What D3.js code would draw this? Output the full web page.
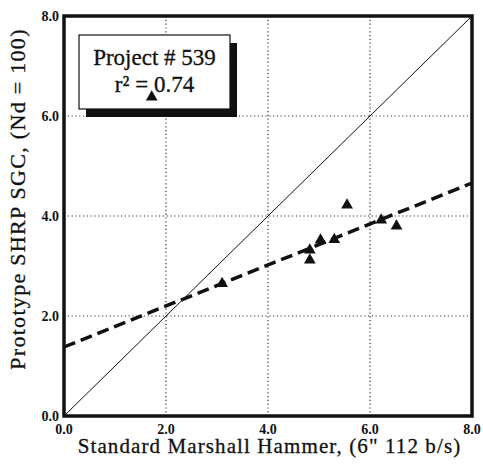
<!DOCTYPE html>
<html>
  <head>
    <script src="https://cdn.jsdelivr.net/npm/d3@7"></script>
    <style>
      body { margin: 0; background: #fff; overflow: hidden; }
      svg { display: block; }
      .tick-label { font-family: "Liberation Serif", serif; font-weight: bold; font-size: 14px; fill: #111; }
      .axis-label { font-family: "Liberation Serif", serif; font-size: 21px; fill: #111; stroke: #111; stroke-width: 0.3; text-anchor: middle; }
      .box-text { font-family: "Liberation Serif", serif; font-size: 23px; fill: #111; stroke: #111; stroke-width: 0.3; text-anchor: middle; }
    </style>
  </head>
  <body>
    <svg width="483" height="465"></svg>
    <script>
      const xTicks = [0, 2, 4, 6, 8];
      const yTicks = [0, 2, 4, 6, 8];
      const gridValues = [2, 4, 6];
      const pointX = [3.1, 4.82, 4.82, 5.03, 5.3, 5.55, 6.22, 6.52];
      const pointY = [2.65, 3.32, 3.12, 3.52, 3.53, 4.22, 3.92, 3.8];
      const fitLine = [[0, 1.38], [8, 4.66]];
      const equalLine = [[0, 0], [8, 8]];
      const strayMark = [1.72, 6.38];
      const xLabel = "Standard Marshall Hammer, (6\" 112 b/s)";
      const yLabel = "Prototype SHRP SGC, (Nd = 100)";

      const margin = {top: 16, right: 11, bottom: 49, left: 64};
      const svg = d3.select("svg");
      const width = +svg.attr("width");
      const height = +svg.attr("height");
      const innerWidth = width - margin.left - margin.right;
      const innerHeight = height - margin.top - margin.bottom;

      const xScale = d3.scaleLinear().domain([0, 8]).range([0, innerWidth]);
      const yScale = d3.scaleLinear().domain([0, 8]).range([innerHeight, 0]);

      const g = svg.append("g")
          .attr("transform", `translate(${margin.left}, ${margin.top})`);

      // dotted grid
      g.selectAll(".vgrid").data(gridValues).enter().append("line")
          .attr("x1", d => xScale(d)).attr("x2", d => xScale(d))
          .attr("y1", 0).attr("y2", innerHeight)
          .attr("stroke", "#333").attr("stroke-width", 1.2)
          .attr("stroke-dasharray", "1.2,2.6");
      g.selectAll(".hgrid").data(gridValues).enter().append("line")
          .attr("y1", d => yScale(d)).attr("y2", d => yScale(d))
          .attr("x1", 0).attr("x2", innerWidth)
          .attr("stroke", "#333").attr("stroke-width", 1.2)
          .attr("stroke-dasharray", "1.2,2.6");

      const line = d3.line().x(d => xScale(d[0])).y(d => yScale(d[1]));

      g.append("path").datum(equalLine)
          .attr("d", line).attr("fill", "none")
          .attr("stroke", "#111").attr("stroke-width", 1);

      g.append("path").datum(fitLine)
          .attr("d", line).attr("fill", "none")
          .attr("stroke", "#111").attr("stroke-width", 3.5)
          .attr("stroke-dasharray", "12,6");

      const tri = d3.symbol().type(d3.symbolTriangle).size(60);
      g.selectAll(".pt").data(pointX).enter().append("path")
          .attr("d", tri)
          .attr("transform", (d, i) => `translate(${xScale(d)}, ${yScale(pointY[i])})`)
          .attr("fill", "#111");

      // text box with shadow
      const bx = 79 - margin.left, by = 35 - margin.top, bw = 151, bh = 74;
      g.append("rect")
          .attr("x", bx + 7).attr("y", by + 8).attr("width", bw).attr("height", bh)
          .attr("fill", "#111");
      g.append("rect")
          .attr("x", bx).attr("y", by).attr("width", bw).attr("height", bh)
          .attr("fill", "#fff").attr("stroke", "#111").attr("stroke-width", 1.2);
      g.append("text").attr("class", "box-text")
          .attr("x", bx + bw / 2).attr("y", by + 30)
          .text("Project # 539");
      g.append("text").attr("class", "box-text")
          .attr("x", bx + bw / 2).attr("y", by + 57)
          .text("r² = 0.74");
      g.append("path")
          .attr("d", tri)
          .attr("transform", `translate(${xScale(strayMark[0])}, ${yScale(strayMark[1])})`)
          .attr("fill", "#111");

      // frame
      g.append("rect")
          .attr("width", innerWidth).attr("height", innerHeight)
          .attr("fill", "none").attr("stroke", "#111").attr("stroke-width", 3.5);

      g.selectAll(".xt").data(xTicks).enter().append("text")
          .attr("class", "tick-label")
          .attr("x", d => xScale(d)).attr("y", innerHeight + 18)
          .attr("text-anchor", "middle")
          .text(d => d.toFixed(1));
      g.selectAll(".yt").data(yTicks).enter().append("text")
          .attr("class", "tick-label")
          .attr("x", -5).attr("y", d => yScale(d) + 5)
          .attr("text-anchor", "end")
          .text(d => d.toFixed(1));

      g.append("text").attr("class", "axis-label")
          .attr("x", (77 + 462) / 2 - margin.left).attr("y", 453 - margin.top)
          .style("letter-spacing", "1.1px")
          .text(xLabel);
      g.append("text").attr("class", "axis-label")
          .attr("transform", "rotate(-90)")
          .attr("x", -(199 - margin.top)).attr("y", 25 - margin.left)
          .style("font-size", "22px")
          .style("letter-spacing", "1.3px")
          .text(yLabel);
    </script>
  </body>
</html>
